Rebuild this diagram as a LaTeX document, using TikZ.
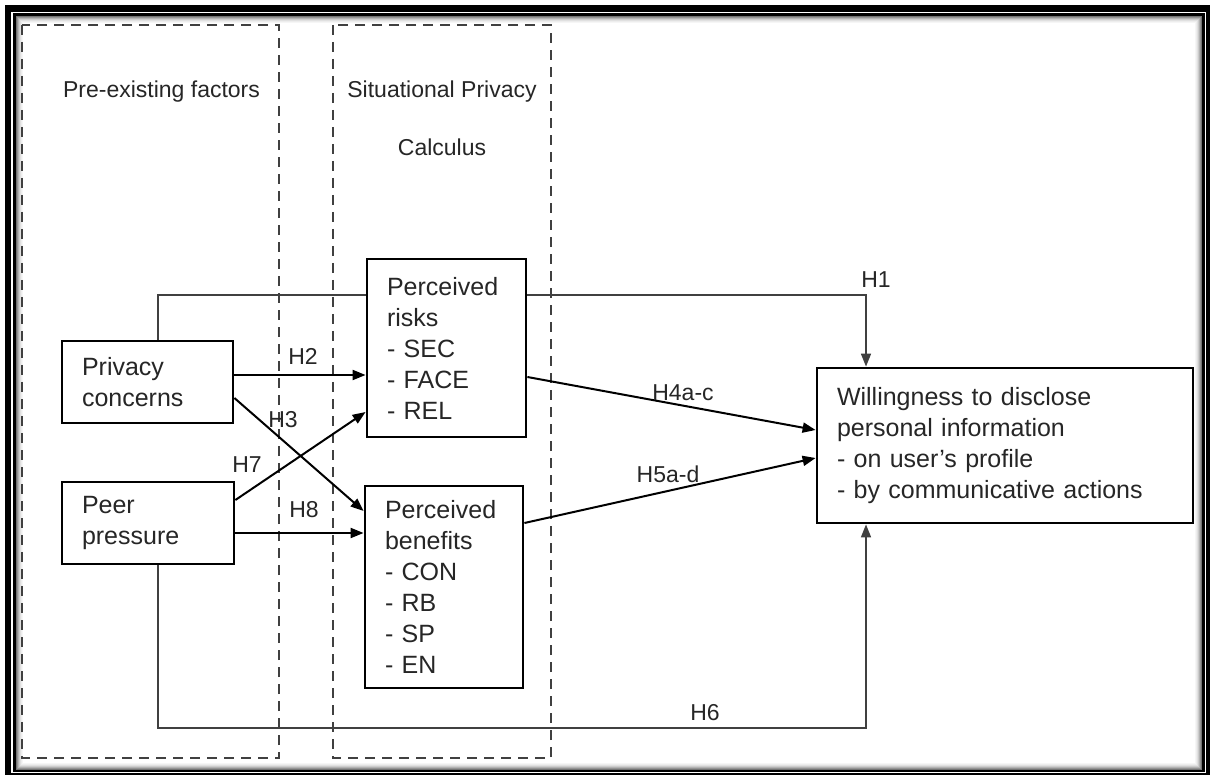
\documentclass[tikz,border=0pt]{standalone}
\usepackage{fontspec}
\setmainfont{Liberation Sans}
\usetikzlibrary{arrows.meta}

\pgfdeclarelayer{frame}
\pgfdeclarelayer{paths}
\pgfsetlayers{frame,paths,main}

\begin{document}
\begin{tikzpicture}[x=1pt,y=-1pt,
  box/.style={draw=black,fill=white,line width=2.8pt,rectangle,inner xsep=20pt,inner ysep=4pt,
    align=left,font=\fontsize{25}{31}\selectfont,text=black!85},
  lbl/.style={font=\fontsize{23}{28}\selectfont,text=black!85,anchor=base,inner sep=0pt},
  tip/.style={-{Triangle[length=13pt,width=10pt]}},
  link/.style={draw=black,line width=2pt,tip},
  longlink/.style={draw=black!75,line width=1.6pt,tip},
  region/.style={draw=black!75,line width=2pt,dash pattern=on 10pt off 7pt},
]
\useasboundingbox (0,0) rectangle (1210,775);

% framed border with inner shadow
\begin{pgfonlayer}{frame}
\fill[white] (0,0) rectangle (1210,775);
\fill[black] (5,5) rectangle (1210,775);
\fill[white] (11,12) rectangle (1206,773);
\fill[black] (13.3,13.5) rectangle (1205,772);
\fill[white] (16,16) rectangle (1202,769.5);
\foreach \i/\o in {0/0.55,1/0.42,2/0.3,3/0.2,4/0.12,5/0.07,6/0.035}
  \draw[black,opacity=\o,line width=1pt] (16.5+\i,16.5+\i) rectangle (1201.5-\i,769-\i);
\end{pgfonlayer}

% dashed groupings
\begin{pgfonlayer}{paths}
\draw[region] (22,25) rectangle (279,758);
\draw[region] (333,25) rectangle (551,758);
\end{pgfonlayer}

\node[lbl] (hdA) at (161.5,98) {Pre-existing factors};
\node[lbl] (hdB) at (442,98) {Situational Privacy};
\node[lbl] (hdC) at (442,156) {Calculus};

% constructs
\node[box,text width=131pt,minimum height=82pt] (pc) at (147.5,382) {Privacy\\concerns};
\node[box,text width=132pt,minimum height=82pt] (pp) at (148,523) {Peer\\pressure};
\node[box,text width=119pt,minimum height=178pt] (pr) at (446.5,348)
  {Perceived\\risks\\- SEC\\- FACE\\- REL};
\node[box,text width=118pt,minimum height=202pt] (pb) at (444,587)
  {Perceived\\benefits\\- CON\\- RB\\- SP\\- EN};
\node[box,text width=336pt,minimum height=155pt] (wd) at (1005,445.5)
  {Willingness to disclose\\personal information\\- on user’s profile\\- by communicative actions};

\begin{pgfonlayer}{paths}
% H1 and H6 routes
\coordinate (h1l) at (158,295);
\coordinate (h1r) at (866,295);
\coordinate (h6l) at (158,728);
\coordinate (h6r) at (866,728);
\draw[longlink] (pc.north -| h1l) -- (h1l) -- (h1r) -- (wd.north -| h1r);
\draw[longlink] (pp.south -| h6l) -- (h6l) -- (h6r) -- (wd.south -| h6r);

% direct paths
\draw[link] (pc.east |- 0,375) -- (pr.west |- 0,375);
\draw[link] (pc.east |- 0,398) -- (pb.west |- 0,511);
\draw[link] (pp.east |- 0,500) -- (pr.west |- 0,412);
\draw[link] (pp.east |- 0,533) -- (pb.west |- 0,533);
\draw[link] (pr.east |- 0,377) -- (wd.west |- 0,430);
\draw[link] (pb.east |- 0,523) -- (wd.west |- 0,458);
\end{pgfonlayer}

% hypothesis labels
\node[lbl] (lh1) at (876,288) {H1};
\node[lbl] (lh2) at (303,365) {H2};
\node[lbl] (lh3) at (283,428) {H3};
\node[lbl] (lh7) at (247,472) {H7};
\node[lbl] (lh8) at (304,517) {H8};
\node[lbl] (lh4) at (683,400) {H4a-c};
\node[lbl] (lh5) at (668,482) {H5a-d};
\node[lbl] (lh6) at (705,720) {H6};
\end{tikzpicture}
\end{document}
